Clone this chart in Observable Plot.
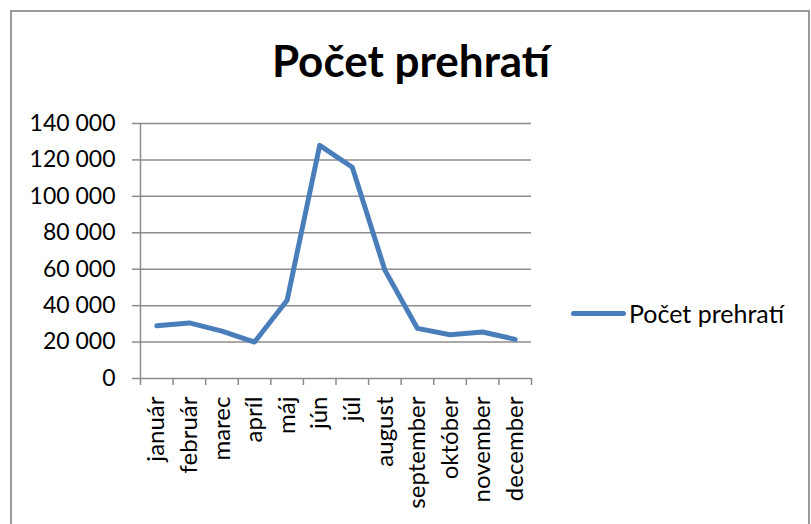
<!DOCTYPE html>
<html>
<head>
<meta charset="utf-8">
<script src="https://cdn.jsdelivr.net/npm/d3@7"></script>
<script src="https://cdn.jsdelivr.net/npm/@observablehq/plot@0.6"></script>
<style>
  html, body { margin: 0; padding: 0; background: #fff; }
  #wrap { position: relative; width: 811px; height: 524px; overflow: hidden; font-family: Lato, "Open Sans", sans-serif; }
  #frame { position: absolute; left: 10px; top: 10px; width: 800px; height: 600px; border: 2px solid #9a9a9a; box-sizing: border-box; }
  #title { position: absolute; left: 0; width: 822px; top: 30px; text-align: center; font-weight: bold; font-size: 44px; line-height: 60px; color: #000; }
  #chart { position: absolute; left: 0; top: 0; }
  #legend { position: absolute; left: 571px; top: 297px; display: flex; align-items: center; height: 32px; font-size: 25px; color: #000; }
  #legend .sw { width: 55px; height: 5px; border-radius: 3px; background: #4A7EBB; margin-right: 3px; }
</style>
</head>
<body>
<div id="wrap">
  <div id="frame"></div>
  <div id="title">Počet prehratí</div>
  <div id="chart"></div>
  <div id="legend"><div class="sw"></div><span>Počet prehratí</span></div>
</div>
<script>
const months = ["január", "február", "marec", "apríl", "máj", "jún", "júl", "august", "september", "október", "november", "december"];
const plays = [29000, 30500, 26000, 20000, 43000, 128000, 116000, 59500, 27500, 24000, 25500, 21500];
const yTicks = [0, 20000, 40000, 60000, 80000, 100000, 120000, 140000];
const seriesName = "Počet prehratí";

const data = months.map((m, i) => ({month: m, idx: i + 0.5, value: plays[i]}));
const fmt = d => d3.format(",")(d).replace(/,/g, " ");

const chart = Plot.plot({
  width: 811,
  height: 524,
  marginLeft: 140,
  marginRight: 280,
  marginTop: 123,
  marginBottom: 146,
  style: {background: "transparent", fontFamily: "Lato, 'Open Sans', sans-serif"},
  x: {domain: [0, 12], axis: null},
  y: {domain: [0, 140000], axis: null},
  marks: [
    Plot.ruleY(yTicks.slice(1), {stroke: "#8c8c8c", strokeWidth: 1.5}),
    Plot.axisY(yTicks, {label: null, tickSize: 8, tickPadding: 17, stroke: "#8c8c8c", strokeWidth: 1.5, tickFormat: fmt, fontSize: 23, fill: "#000"}),
    Plot.ruleX([0], {stroke: "#8c8c8c", strokeWidth: 1.5}),
    Plot.ruleY([0], {stroke: "#8c8c8c", strokeWidth: 1.5}),
    Plot.axisX(d3.range(13), {label: null, tickSize: 7, stroke: "#8c8c8c", strokeWidth: 1.5, tickFormat: () => ""}),
    Plot.line(data, {x: "idx", y: "value", stroke: "#4A7EBB", strokeWidth: 5, strokeLinecap: "round", strokeLinejoin: "round"}),
    Plot.text(data, {x: "idx", y: 0, text: "month", rotate: -90, textAnchor: "end", lineAnchor: "middle", dy: 18, fontSize: 24, fill: "#000"})
  ]
});
document.getElementById("chart").appendChild(chart);
</script>
</body>
</html>
